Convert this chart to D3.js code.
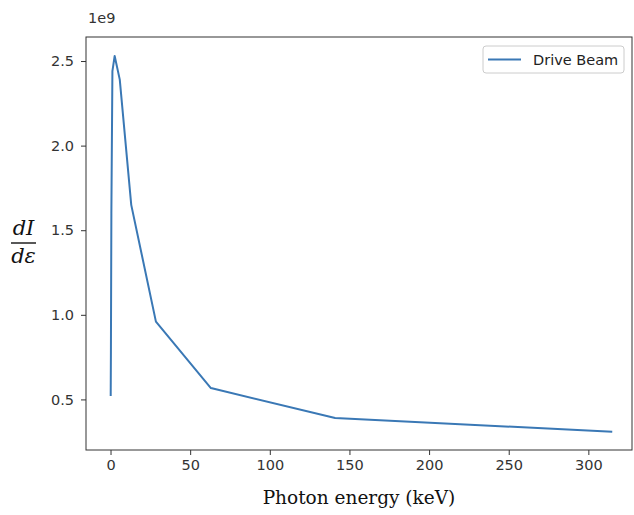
<!DOCTYPE html>
<meta charset="utf-8">
<script src="https://d3js.org/d3.v7.min.js"></script>
<style>
  body { margin: 0; background: #fff; }
  text { font-family: "DejaVu Sans", sans-serif; }
</style>
<svg id="chart" width="634" height="515"></svg>
<script>

// photon energy (keV) and spectrum dI/de (units of 1e9)
const energy = [0.11, 0.24, 0.53, 1.18, 2.6, 5.8, 13, 28.5, 63, 141, 315];
const intensity = [0.52, 0.78, 1.6, 2.44, 2.53, 2.39, 1.65, 0.96, 0.567, 0.39, 0.309];
const xTicks = [0, 50, 100, 150, 200, 250, 300];
const yTicks = [0.5, 1.0, 1.5, 2.0, 2.5];
const seriesName = "Drive Beam";

const svg = d3.select("#chart");
const margin = {left: 86, right: 2, top: 37, bottom: 65};
const width = 634 - margin.left - margin.right,
      height = 515 - margin.top - margin.bottom;

const x = d3.scaleLinear().domain([-15.4, 327.4]).range([0, width]);
const y = d3.scaleLinear().domain([0.201, 2.642]).range([height, 0]);

const g = svg.append("g").attr("transform", `translate(${margin.left},${margin.top})`);

// axes
const xAxis = g.append("g")
  .attr("transform", `translate(0,${height})`)
  .call(d3.axisBottom(x).tickValues(xTicks).tickSize(5).tickPadding(5).tickFormat(d3.format("d")));
const yAxis = g.append("g")
  .call(d3.axisLeft(y).tickValues(yTicks).tickSize(5).tickPadding(7).tickFormat(d3.format(".1f")));

[xAxis, yAxis].forEach(a => {
  a.select(".domain").remove();
  a.selectAll("line").attr("stroke", "#333");
  a.selectAll("text").attr("fill", "#333").style("font-size", "14.5px");
});

// frame
g.append("rect")
  .attr("width", width).attr("height", height)
  .attr("fill", "none").attr("stroke", "#333").attr("stroke-width", 1);

// line
const data = energy.map((e, i) => ({e, v: intensity[i]}));
g.append("path")
  .datum(data)
  .attr("fill", "none")
  .attr("stroke", "#3a78b5")
  .attr("stroke-width", 2)
  .attr("stroke-linejoin", "round")
  .attr("d", d3.line().x(d => x(d.e)).y(d => y(d.v)));

// offset text
svg.append("text")
  .attr("x", 88).attr("y", 23)
  .attr("fill", "#333")
  .style("font-size", "14.5px")
  .text("1e9");

// legend
const lg = svg.append("g").attr("transform", "translate(483,46)");
lg.append("rect")
  .attr("width", 141).attr("height", 27).attr("rx", 3)
  .attr("fill", "#fff").attr("stroke", "#ccc");
lg.append("line")
  .attr("x1", 5).attr("x2", 38).attr("y1", 13.5).attr("y2", 13.5)
  .attr("stroke", "#3a78b5").attr("stroke-width", 2);
lg.append("text")
  .attr("x", 50).attr("y", 18.5)
  .attr("fill", "#222")
  .style("font-size", "14.5px")
  .text(seriesName);

// x label
svg.append("text")
  .attr("x", margin.left + width / 2 - 0).attr("y", 504)
  .attr("text-anchor", "middle")
  .style("font-family", "'DejaVu Serif', serif")
  .style("font-size", "18.5px")
  .attr("fill", "#111")
  .text("Photon energy (keV)");

// y label: dI / dε fraction
const yl = svg.append("g").attr("transform", "translate(23.5,243)");
yl.append("text")
  .attr("x", 0).attr("y", -8)
  .attr("text-anchor", "middle")
  .style("font-family", "'DejaVu Serif', serif")
  .style("font-style", "italic")
  .style("font-size", "21px")
  .attr("fill", "#111")
  .text("dI");
yl.append("line")
  .attr("x1", -12.5).attr("x2", 12.5).attr("y1", 0).attr("y2", 0)
  .attr("stroke", "#111").attr("stroke-width", 1.4);
yl.append("text")
  .attr("x", 0).attr("y", 20)
  .attr("text-anchor", "middle")
  .style("font-family", "'DejaVu Serif', serif")
  .style("font-style", "italic")
  .style("font-size", "21px")
  .attr("fill", "#111")
  .text("dε");

</script>
